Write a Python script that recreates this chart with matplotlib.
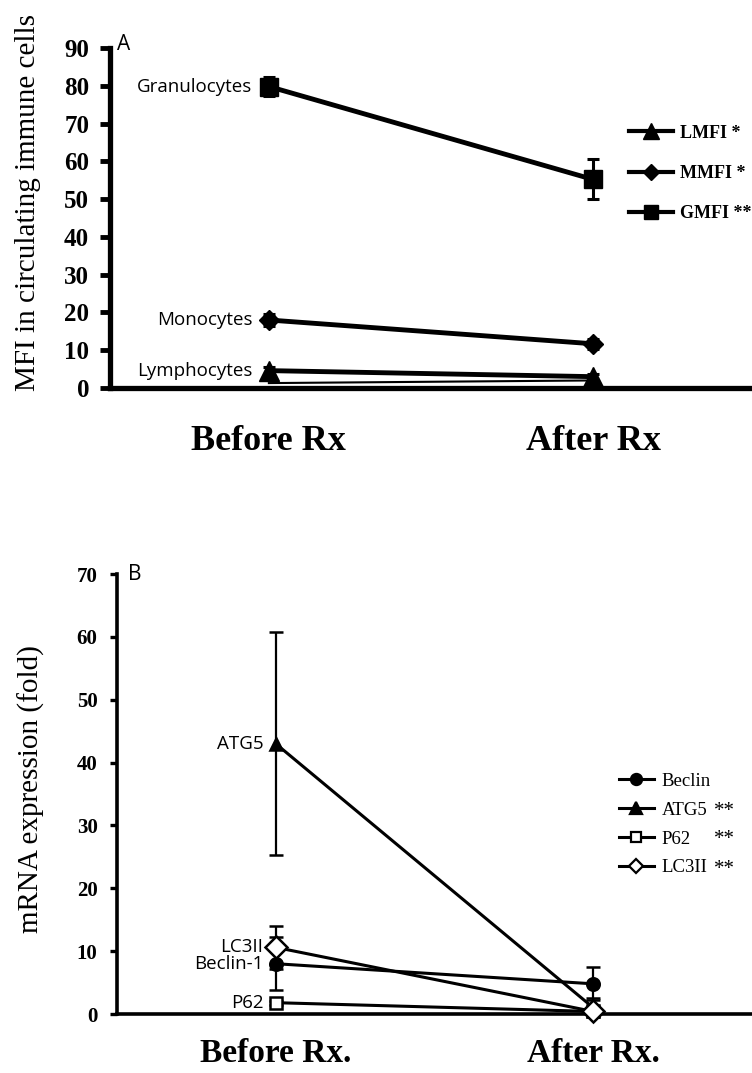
import numpy as np
import matplotlib.pyplot as plt
from matplotlib.lines import Line2D

plt.rcParams['font.family'] = ['Liberation Serif', 'DejaVu Serif']

# panel A: MFI in circulating immune cells
timepoints_a = ['Before Rx', 'After Rx']
cells = ['Lymphocytes', 'Monocytes', 'Granulocytes']
mfi_legend = ['LMFI *', 'MMFI *', 'GMFI **']
mfi_before = [4.6, 18.0, 79.8]
mfi_after = [3.0, 11.7, 55.2]
mfi_err_before = [1.0, 1.5, 2.5]
mfi_err_after = [0.8, 1.3, 5.3]
lymph_low = [1.3, 2.0]

# panel B: mRNA expression
timepoints_b = ['Before Rx.', 'After Rx.']
genes = ['Beclin-1', 'ATG5', 'P62', 'LC3II']
gene_legend = ['Beclin', 'ATG5', 'P62', 'LC3II']
gene_stars = ['', '**', '**', '**']
mrna_before = [8.0, 43.0, 1.8, 10.6]
mrna_after = [4.8, 1.0, 0.4, 0.4]
mrna_err_before = [4.2, 17.7, 0.3, 3.4]
mrna_err_after = [2.6, 1.5, 0.3, 0.4]

W, H = 752, 1073
fig = plt.figure(figsize=(W / 100, H / 100), dpi=100)
axA = fig.add_axes([110 / W, (H - 388) / H, (W - 110) / W, 340 / H])
axB = fig.add_axes([117 / W, (H - 1014) / H, (W - 117) / W, 440 / H])

x = np.arange(2)
sans = 'Open Sans'

# ---- panel A ----
marks_a = ['^', 'D', 's']
size_a = [14, 10, 13]
axA.plot(x, lymph_low, color='black', lw=1.5, zorder=2, clip_on=False)
for i in range(3):
    axA.errorbar(x, [mfi_before[i], mfi_after[i]],
                 yerr=[mfi_err_before[i], mfi_err_after[i]],
                 color='black', lw=3.5, marker=marks_a[i], ms=size_a[i],
                 capsize=4, elinewidth=2.2, capthick=2.2,
                 clip_on=False, zorder=3)
    axA.annotate(cells[i], (0, mfi_before[i]), xytext=(-12, 0),
                 textcoords='offset points', ha='right', va='center',
                 family=sans, fontsize=13.5)

axA.set_xlim(-0.49, 1.49)
axA.set_ylim(0, 90)
axA.set_yticks(range(0, 91, 10))
axA.spines[['top', 'right']].set_visible(False)
for s in ['left', 'bottom']:
    axA.spines[s].set_linewidth(3.8)
axA.tick_params(axis='y', direction='out', length=7, width=3.5, pad=8,
                labelsize=18)
for lab in axA.get_yticklabels():
    lab.set_fontweight('bold')
axA.set_xticks(x, timepoints_a, fontsize=26, fontweight='bold')
axA.tick_params(axis='x', length=0, pad=27)
axA.set_ylabel('MFI in circulating immune cells', fontsize=21, va='center')
axA.yaxis.set_label_coords(-0.127, 0.545)
axA.text(0.011, 1.009, 'A', transform=axA.transAxes, family=sans,
         fontsize=15, ha='left', va='center')

handles_a = [Line2D([], [], color='black', lw=3, marker=m, ms=s * 0.8)
             for m, s in zip(marks_a, size_a)]
axA.legend(handles_a, mfi_legend, loc='upper left',
           bbox_to_anchor=(0.808, 0.775), frameon=False, borderpad=0,
           borderaxespad=0, handlelength=2.44, handletextpad=0.4,
           labelspacing=1.3, prop={'weight': 'bold', 'size': 13})

# ---- panel B ----
marks_b = ['o', '^', 's', 'D']
face_b = ['black', 'black', 'white', 'white']
size_b = [9, 9, 8, 11]
for i in range(4):
    axB.errorbar(x, [mrna_before[i], mrna_after[i]],
                 yerr=[mrna_err_before[i], mrna_err_after[i]],
                 color='black', lw=2.2, marker=marks_b[i], ms=size_b[i],
                 mfc=face_b[i], mec='black', mew=1.8,
                 capsize=5, elinewidth=1.6, capthick=1.6,
                 clip_on=False, zorder=3)
    axB.annotate(genes[i], (0, mrna_before[i]), xytext=(-9, 0),
                 textcoords='offset points', ha='right', va='center',
                 family=sans, fontsize=13.5)

axB.set_xlim(-0.5, 1.5)
axB.set_ylim(0, 70)
axB.set_yticks(range(0, 71, 10))
axB.spines[['top', 'right']].set_visible(False)
for s in ['left', 'bottom']:
    axB.spines[s].set_linewidth(2.6)
axB.tick_params(axis='y', direction='out', length=5, width=2.4, pad=9,
                labelsize=15)
for lab in axB.get_yticklabels():
    lab.set_fontweight('bold')
axB.set_xticks(x, timepoints_b, fontsize=24, fontweight='bold')
axB.tick_params(axis='x', length=0, pad=17)
axB.set_ylabel('mRNA expression (fold)', fontsize=21, va='center')
axB.yaxis.set_label_coords(-0.135, 0.511)
axB.text(0.017, 1.0, 'B', transform=axB.transAxes, family=sans,
         fontsize=15, ha='left', va='center')

legend_size_b = [8, 8, 7, 7]
handles_b = [Line2D([], [], color='black', lw=2.2, marker=m, ms=s,
                    mfc=f, mec='black', mew=1.6)
             for m, s, f in zip(marks_b, legend_size_b, face_b)]
axB.legend(handles_b, gene_legend, loc='upper left',
           bbox_to_anchor=(0.79, 0.548), frameon=False, borderpad=0,
           borderaxespad=0, handlelength=1.9, handletextpad=0.4,
           labelspacing=0.62, prop={'size': 13.5})
rows_b = [783, 811, 840, 870]
for star, yr in zip(gene_stars, rows_b):
    if star:
        fig.text(714 / W, 1 - yr / H, star, fontsize=15, va='center')

fig.savefig('out.png', dpi=100)
